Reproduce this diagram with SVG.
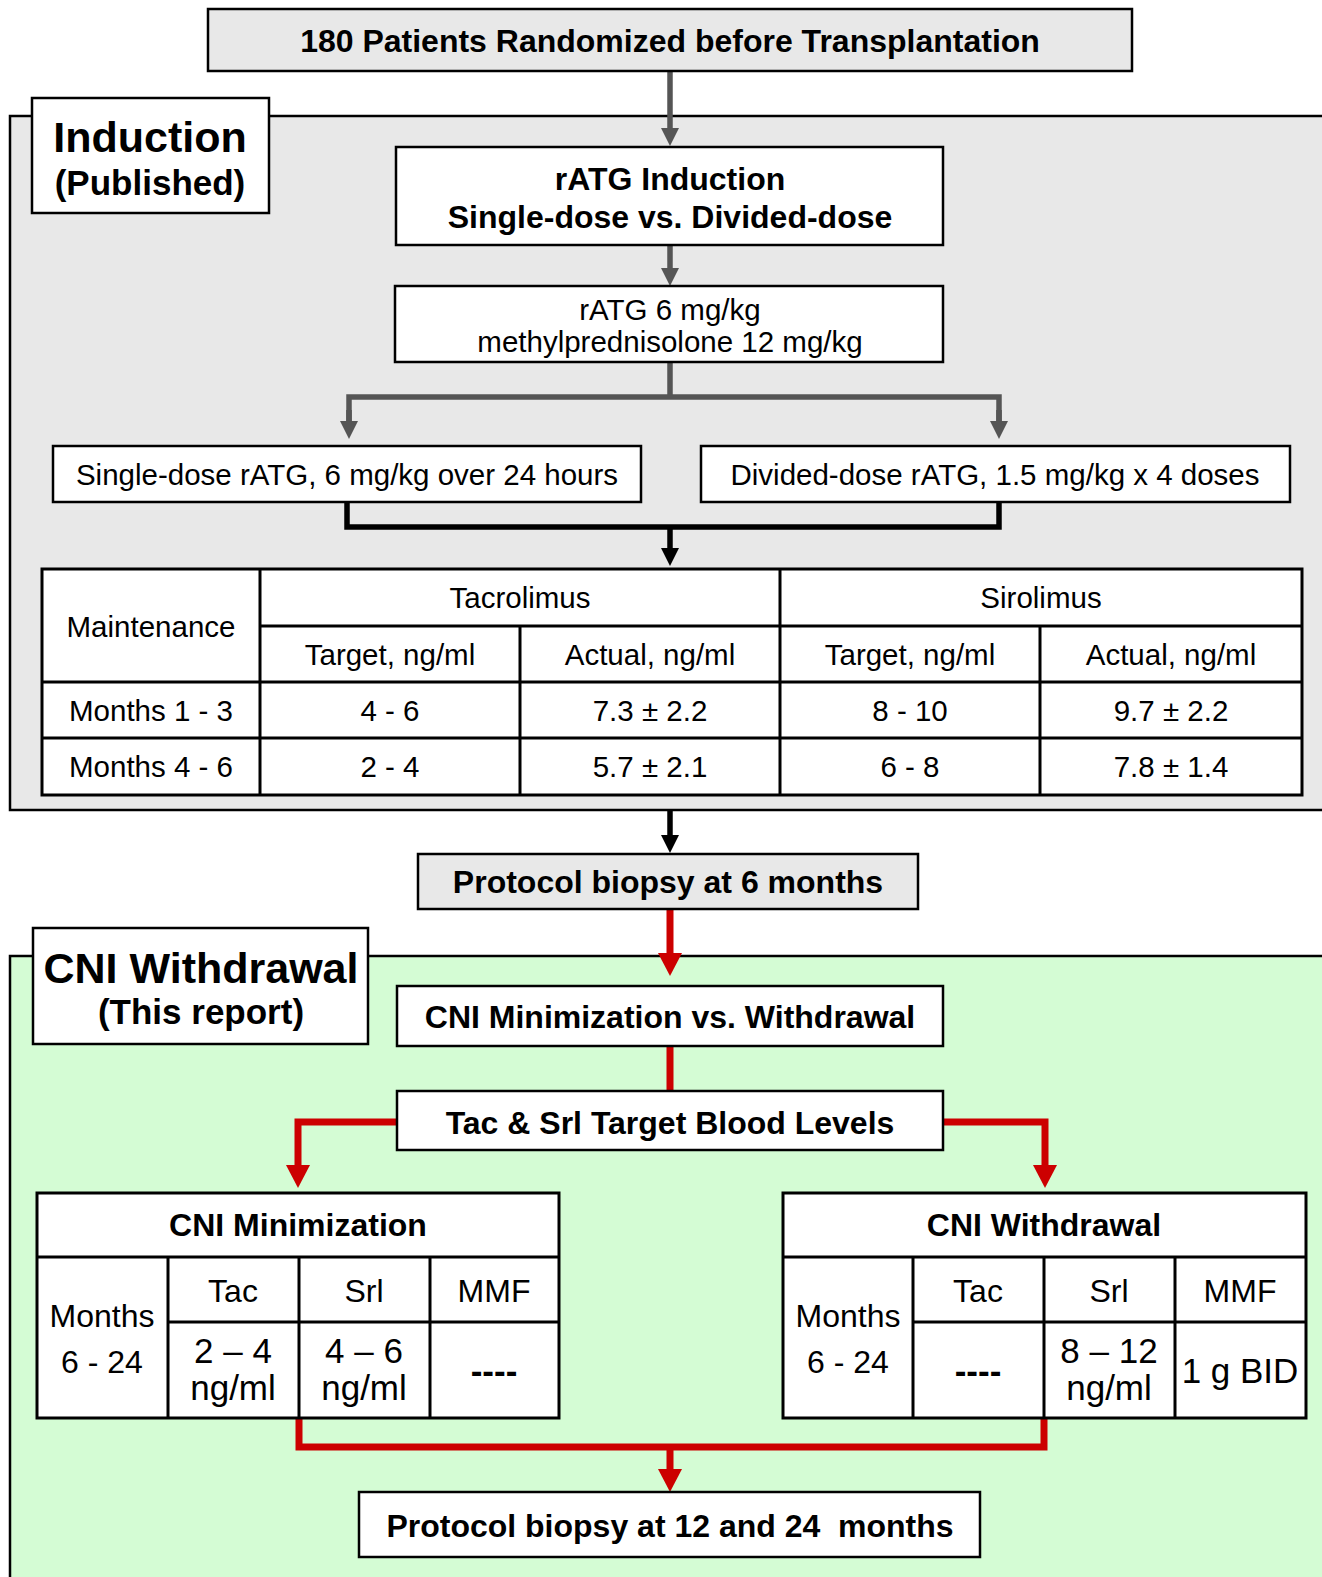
<svg xmlns="http://www.w3.org/2000/svg" width="1322" height="1577" viewBox="0 0 1322 1577">
<style>
  text { font-family: "Liberation Sans", Arial, sans-serif; fill: #000; text-anchor: middle; }
  .b { font-weight: bold; font-size: 32px; }
  .r { font-size: 29.5px; }
  .big { font-weight: bold; font-size: 43px; }
  .sub { font-weight: bold; font-size: 35px; }
  .cr { font-size: 32px; }
  .cv { font-size: 35px; }
  .dash { font-weight: bold; font-size: 35px; }
  .box { stroke: #000; stroke-width: 2.5; }
  .white { fill: #fff; }
  .grey { fill: #e8e8e8; }
  .grid { stroke: #000; stroke-width: 3; fill: none; }
  .cg { stroke: #555; stroke-width: 5.5; fill: none; }
  .ck { stroke: #000; stroke-width: 5.5; fill: none; }
  .cred { stroke: #cc0000; stroke-width: 7; fill: none; }
</style>
<defs>
  <marker id="ag" markerUnits="userSpaceOnUse" markerWidth="18" markerHeight="18" viewBox="0 0 18 18" refX="0" refY="9" orient="auto">
    <path d="M0,0 L18,9 L0,18 z" fill="#555"/>
  </marker>
  <marker id="ak" markerUnits="userSpaceOnUse" markerWidth="18" markerHeight="18" viewBox="0 0 18 18" refX="0" refY="9" orient="auto">
    <path d="M0,0 L18,9 L0,18 z" fill="#000"/>
  </marker>
  <marker id="ar" markerUnits="userSpaceOnUse" markerWidth="23" markerHeight="24" viewBox="0 0 23 24" refX="0" refY="12" orient="auto">
    <path d="M0,0 L23,12 L0,24 z" fill="#cc0000"/>
  </marker>
</defs>
<rect width="1322" height="1577" fill="#fff"/>

<!-- Panels -->
<g id="panel-induction">
  <rect x="10" y="116" width="1330" height="694" class="box grey"/>
</g>
<g id="panel-cni">
  <rect x="10" y="956" width="1330" height="640" class="box" fill="#d4fcd4"/>
</g>

<!-- Connectors -->
<g id="connectors">
  <path d="M670,70 V128" class="cg" marker-end="url(#ag)"/>
  <path d="M670,245 V268" class="cg" marker-end="url(#ag)"/>
  <path d="M670,362 V397" class="cg"/>
  <path d="M349,421 V397 H999 V421" class="cg"/>
  <path d="M349,410 V421" class="cg" marker-end="url(#ag)"/>
  <path d="M999,410 V421" class="cg" marker-end="url(#ag)"/>
  <path d="M347,502 V527 H999 V502" class="ck"/>
  <path d="M670,527 V548" class="ck" marker-end="url(#ak)"/>
  <path d="M670,810 V835" class="ck" marker-end="url(#ak)"/>
  <path d="M670,909 V953" class="cred" marker-end="url(#ar)"/>
  <path d="M670,1046 V1091" class="cred"/>
  <path d="M397,1122 H298 V1165" class="cred" marker-end="url(#ar)"/>
  <path d="M943,1122 H1045 V1165" class="cred" marker-end="url(#ar)"/>
  <path d="M299,1418 V1447 H1044 V1418" class="cred"/>
  <path d="M670,1447 V1469" class="cred" marker-end="url(#ar)"/>
</g>

<g id="start">
  <rect x="208" y="9" width="924" height="62" class="box grey"/>
  <text x="670" y="52" class="b">180 Patients Randomized before Transplantation</text>
</g>

<g id="label-induction">
  <rect x="32" y="98" width="237" height="115" class="box white"/>
  <text x="150" y="152" class="big">Induction</text>
  <text x="150" y="195" class="sub">(Published)</text>
</g>

<g id="ratg-induction">
  <rect x="396" y="147" width="547" height="98" class="box white"/>
  <text x="670" y="190" class="b">rATG Induction</text>
  <text x="670" y="228" class="b">Single-dose vs. Divided-dose</text>
</g>

<g id="ratg-dose">
  <rect x="395" y="286" width="548" height="76" class="box white"/>
  <text x="670" y="320" class="r">rATG 6 mg/kg</text>
  <text x="670" y="352" class="r">methylprednisolone 12 mg/kg</text>
</g>

<g id="single-dose">
  <rect x="53" y="446" width="588" height="56" class="box white"/>
  <text x="347" y="485" class="r">Single-dose rATG, 6 mg/kg over 24 hours</text>
</g>

<g id="divided-dose">
  <rect x="701" y="446" width="589" height="56" class="box white"/>
  <text x="995" y="485" class="r">Divided-dose rATG, 1.5 mg/kg x 4 doses</text>
</g>

<g id="maintenance-table">
  <rect x="42" y="569" width="1260" height="226" fill="#fff"/>
  <path d="M42,569 H1302 V795 H42 Z M260,569 V795 M260,626 H1302 M520,626 V795 M780,569 V795 M1040,626 V795 M42,682 H1302 M42,738 H1302" class="grid"/>
  <text x="151" y="637" class="r">Maintenance</text>
  <text x="520" y="608" class="r">Tacrolimus</text>
  <text x="1041" y="608" class="r">Sirolimus</text>
  <text x="390" y="665" class="r">Target, ng/ml</text>
  <text x="650" y="665" class="r">Actual, ng/ml</text>
  <text x="910" y="665" class="r">Target, ng/ml</text>
  <text x="1171" y="665" class="r">Actual, ng/ml</text>
  <text x="151" y="721" class="r">Months 1 - 3</text>
  <text x="390" y="721" class="r">4 - 6</text>
  <text x="650" y="721" class="r">7.3 ± 2.2</text>
  <text x="910" y="721" class="r">8 - 10</text>
  <text x="1171" y="721" class="r">9.7 ± 2.2</text>
  <text x="151" y="777" class="r">Months 4 - 6</text>
  <text x="390" y="777" class="r">2 - 4</text>
  <text x="650" y="777" class="r">5.7 ± 2.1</text>
  <text x="910" y="777" class="r">6 - 8</text>
  <text x="1171" y="777" class="r">7.8 ± 1.4</text>
</g>

<g id="biopsy-6">
  <rect x="418" y="854" width="500" height="55" class="box grey"/>
  <text x="668" y="893" class="b">Protocol biopsy at 6 months</text>
</g>

<g id="label-cni">
  <rect x="33" y="928" width="335" height="116" class="box white"/>
  <text x="201" y="983" class="big">CNI Withdrawal</text>
  <text x="201" y="1024" class="sub">(This report)</text>
</g>

<g id="cni-min-vs-withdrawal">
  <rect x="397" y="986" width="546" height="60" class="box white"/>
  <text x="670" y="1028" class="b">CNI Minimization vs. Withdrawal</text>
</g>

<g id="target-levels">
  <rect x="397" y="1091" width="546" height="59" class="box white"/>
  <text x="670" y="1134" class="b">Tac &amp; Srl Target Blood Levels</text>
</g>

<g id="cni-min-table">
  <rect x="37" y="1193" width="522" height="225" fill="#fff"/>
  <path d="M37,1193 H559 V1418 H37 Z M37,1257 H559 M168,1257 V1418 M299,1257 V1418 M430,1257 V1418 M168,1322 H559" class="grid"/>
  <text x="298" y="1236" class="b">CNI Minimization</text>
  <text x="233" y="1302" class="cr">Tac</text>
  <text x="364" y="1302" class="cr">Srl</text>
  <text x="494" y="1302" class="cr">MMF</text>
  <text x="102" y="1327" class="cr">Months</text>
  <text x="102" y="1373" class="cr">6 - 24</text>
  <text x="233" y="1363" class="cv">2 – 4</text>
  <text x="233" y="1400" class="cv">ng/ml</text>
  <text x="364" y="1363" class="cv">4 – 6</text>
  <text x="364" y="1400" class="cv">ng/ml</text>
  <text x="494" y="1383" class="dash">----</text>
</g>

<g id="cni-withdrawal-table">
  <rect x="783" y="1193" width="523" height="225" fill="#fff"/>
  <path d="M783,1193 H1306 V1418 H783 Z M783,1257 H1306 M913,1257 V1418 M1044,1257 V1418 M1175,1257 V1418 M913,1322 H1306" class="grid"/>
  <text x="1044" y="1236" class="b">CNI Withdrawal</text>
  <text x="978" y="1302" class="cr">Tac</text>
  <text x="1109" y="1302" class="cr">Srl</text>
  <text x="1240" y="1302" class="cr">MMF</text>
  <text x="848" y="1327" class="cr">Months</text>
  <text x="848" y="1373" class="cr">6 - 24</text>
  <text x="978" y="1383" class="dash">----</text>
  <text x="1109" y="1363" class="cv">8 – 12</text>
  <text x="1109" y="1400" class="cv">ng/ml</text>
  <text x="1240" y="1383" class="cv">1 g BID</text>
</g>

<g id="biopsy-12-24">
  <rect x="359" y="1492" width="621" height="65" class="box white"/>
  <text x="670" y="1537" class="b" xml:space="preserve">Protocol biopsy at 12 and 24  months</text>
</g>
</svg>
